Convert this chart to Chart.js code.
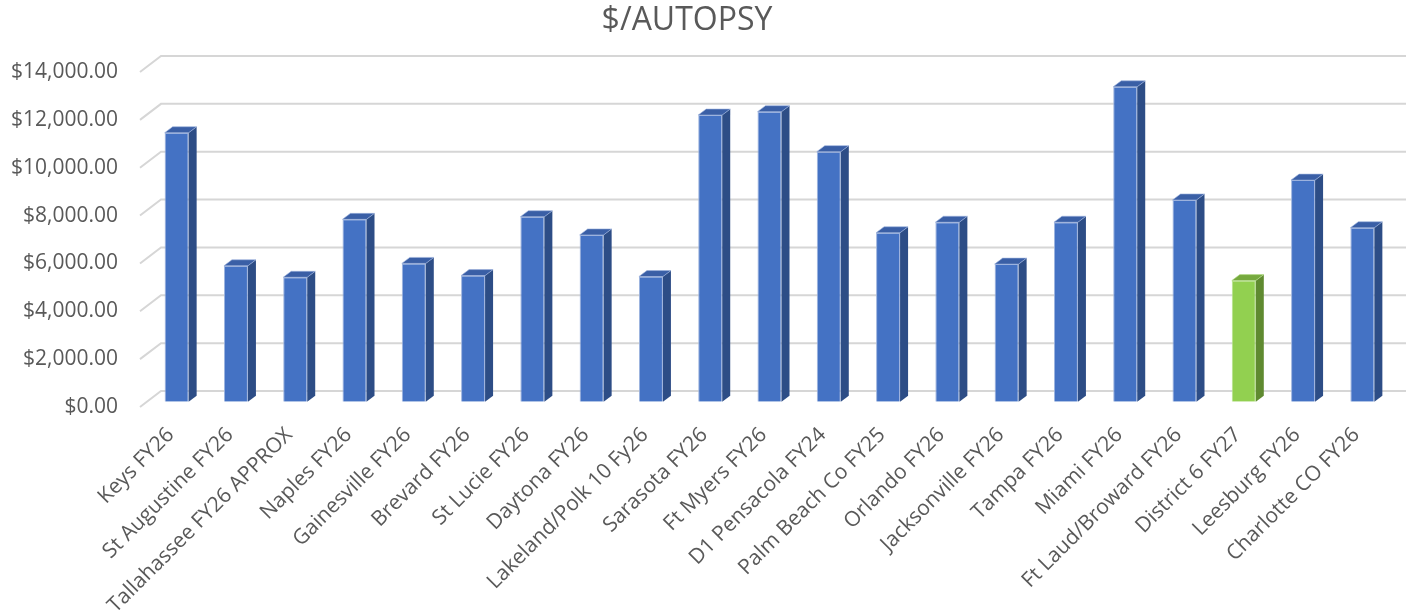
<!DOCTYPE html>
<html>
<head>
<meta charset="utf-8">
<script src="https://cdn.jsdelivr.net/npm/chart.js@4"></script>
<style>
  body { margin: 0; background: #fff; }
  #wrap { width: 1410px; height: 613px; }
</style>
</head>
<body>
<div id="wrap"><canvas id="autopsyChart"></canvas></div>
<script>
// values
const offices = [
  'Keys FY26', 'St Augustine FY26', 'Tallahassee FY26 APPROX', 'Naples FY26',
  'Gainesville FY26', 'Brevard FY26', 'St Lucie FY26', 'Daytona FY26',
  'Lakeland/Polk 10 Fy26', 'Sarasota FY26', 'Ft Myers FY26', 'D1 Pensacola FY24',
  'Palm Beach Co FY25', 'Orlando FY26', 'Jacksonville FY26', 'Tampa FY26',
  'Miami FY26', 'Ft Laud/Broward FY26', 'District 6 FY27', 'Leesburg FY26',
  'Charlotte CO FY26'
];
const costPerAutopsy = [
  11240, 5680, 5200, 7620, 5780, 5270, 7730, 6970, 5230, 11980, 12120,
  10450, 7060, 7500, 5750, 7500, 13160, 8430, 5060, 9260, 7270
];
const highlighted = 'District 6 FY27';
const yMax = 14000;
const yStep = 2000;

const BLUE = { front: '#4472C4', side: '#2D4D86', top: '#3A5FA6', edge: '#9DB3DE' };
const GREEN = { front: '#92D050', side: '#5F8A30', top: '#76A93E', edge: '#B5E08A' };

const palette = offices.map(n => n === highlighted ? GREEN : BLUE);

// fake 3D offsets (pixels)
const gridBack = { dx: 14, dy: -10.7 };
const gridFront = { dx: -7, dy: 5.3 };
const barDepth = { dx: 8, dy: -6 };

const fmtMoney = v => '$' + Number(v).toLocaleString('en-US', { minimumFractionDigits: 2, maximumFractionDigits: 2 });

// back wall grid lines with the little diagonal to the front
const depthGrid = {
  id: 'depthGrid',
  beforeDatasetsDraw(chart) {
    const { ctx, chartArea, scales: { y } } = chart;
    ctx.save();
    ctx.strokeStyle = '#D6D6D6';
    ctx.lineWidth = 2;
    y.ticks.forEach(t => {
      const py = y.getPixelForValue(t.value);
      ctx.beginPath();
      ctx.moveTo(chartArea.left + gridFront.dx, py + gridFront.dy);
      ctx.lineTo(chartArea.left + gridBack.dx, py + gridBack.dy);
      ctx.lineTo(chartArea.right + gridBack.dx, py + gridBack.dy);
      ctx.stroke();
    });
    ctx.restore();
  }
};

// side and top faces of each column
const columnFaces = {
  id: 'columnFaces',
  afterDatasetsDraw(chart) {
    const { ctx } = chart;
    const meta = chart.getDatasetMeta(0);
    ctx.save();
    ctx.lineWidth = 1;
    meta.data.forEach((bar, i) => {
      const c = palette[i];
      const half = bar.width / 2;
      const l = bar.x - half, r = bar.x + half;
      const top = bar.y, base = bar.base;
      // side
      ctx.beginPath();
      ctx.moveTo(r, top);
      ctx.lineTo(r + barDepth.dx, top + barDepth.dy);
      ctx.lineTo(r + barDepth.dx, base + barDepth.dy);
      ctx.lineTo(r, base);
      ctx.closePath();
      ctx.fillStyle = c.side;
      ctx.fill();
      // top
      ctx.beginPath();
      ctx.moveTo(l, top);
      ctx.lineTo(l + barDepth.dx, top + barDepth.dy);
      ctx.lineTo(r + barDepth.dx, top + barDepth.dy);
      ctx.lineTo(r, top);
      ctx.closePath();
      ctx.fillStyle = c.top;
      ctx.fill();
      ctx.strokeStyle = c.edge;
      ctx.globalAlpha = 0.6;
      ctx.stroke();
      ctx.globalAlpha = 1;
    });
    ctx.restore();
  }
};

new Chart(document.getElementById('autopsyChart'), {
  type: 'bar',
  data: {
    labels: offices,
    datasets: [{
      data: costPerAutopsy,
      backgroundColor: palette.map(c => c.front),
      borderColor: palette.map(c => c.edge),
      borderWidth: 1,
      barPercentage: 0.405,
      categoryPercentage: 1.0
    }]
  },
  options: {
    responsive: true,
    maintainAspectRatio: false,
    animation: false,
    // negative left padding only recentres the title over the plot
    layout: { padding: { left: -18, right: 18, top: 0, bottom: 0 } },
    plugins: {
      legend: { display: false },
      tooltip: { enabled: false },
      title: {
        display: true,
        text: '$/AUTOPSY',
        color: '#595959',
        font: { family: 'Open Sans', size: 32, weight: 'normal' },
        padding: { top: 1.8, bottom: 26.5 }
      }
    },
    scales: {
      x: {
        grid: { display: false, drawTicks: false },
        border: { display: false },
        ticks: {
          autoSkip: false,
          minRotation: 45,
          maxRotation: 45,
          padding: 21,
          labelOffset: -6,
          color: '#595959',
          font: { family: 'Open Sans', size: 21 }
        },
        afterFit(scale) { scale.height = 211.3; }
      },
      y: {
        min: 0,
        max: yMax,
        grid: { display: false, drawTicks: false },
        border: { display: false },
        ticks: {
          stepSize: yStep,
          padding: 29,
          labelOffset: 5.3,
          color: '#595959',
          font: { family: 'Open Sans', size: 21 },
          callback: v => fmtMoney(v)
        },
        afterFit(scale) { scale.width = 165; }
      }
    }
  },
  plugins: [depthGrid, columnFaces]
});
</script>
</body>
</html>
